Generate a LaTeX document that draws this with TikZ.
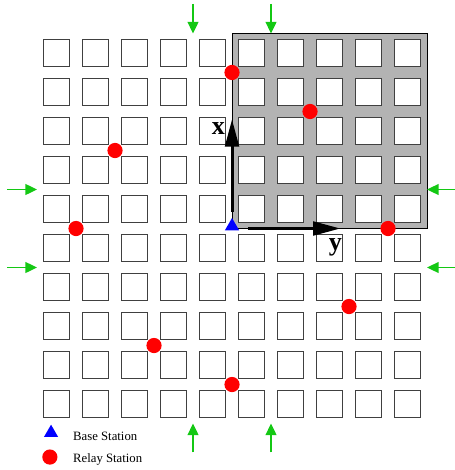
\documentclass[tikz,border=0pt]{standalone}
\usepackage{fontspec}
\setmainfont{Liberation Serif}
\usepackage{xcolor}
\usepackage{tikz}
\usetikzlibrary{shapes.geometric, arrows.meta, positioning, calc}
\definecolor{feedgreen}{RGB}{20,200,20}
\definecolor{zonegray}{RGB}{179,179,179}
\tikzstyle{cell} = [rectangle, minimum size=0.68cm, inner sep=0pt, draw=black!75, line width=0.6pt, fill=white]
\tikzstyle{zone} = [draw=black, line width=0.6pt, fill=zonegray]
\tikzstyle{relay} = [circle, minimum size=0.39cm, inner sep=0pt, fill=red]
\tikzstyle{base} = [regular polygon, regular polygon sides=3, minimum size=0.42cm, inner sep=0pt, fill=blue]
\tikzstyle{feed} = [draw=feedgreen, line width=1.2pt, -{Triangle[length=0.3cm, width=0.28cm]}]
\tikzstyle{axis} = [draw=black, line width=2.2pt, -{Triangle[length=0.7cm, width=0.35cm]}]
\tikzstyle{axislabel} = [inner sep=0pt, anchor=base, font=\fontsize{19}{22}\selectfont\bfseries]
\tikzstyle{legend} = [inner sep=0pt, anchor=base west, font=\fontsize{9.3}{11}\selectfont]

\begin{document}
\begin{tikzpicture}
        \useasboundingbox (-5.949,-6.192) rectangle (5.692,5.859);
        % shaded quadrant
        \draw [zone] (0,0) rectangle (5,5);
        % building blocks
        \foreach \i in {-5,...,4}
            \foreach \j in {-5,...,4}
                \node (sq\i\j) [cell] at (\i+0.5,\j+0.5) {};

        % base station and axes
        \node (bs) [base] at (0,0.06) {};
        \coordinate (xtail) at (0,0.42);
        \coordinate (xtip) at (0,2.8);
        \coordinate (ytail) at (0.42,0);
        \coordinate (ytip) at (2.78,0);
        \draw [axis] (xtail) -- (xtip);
        \draw [axis] (ytail) -- (ytip);
        \node (xlab) [axislabel] at (-0.35,2.4) {x};
        \node (ylab) [axislabel] at (2.65,-0.56) {y};

        % relay stations
        \node (rs1) [relay] at (0,4) {};
        \node (rs2) [relay] at (2,3) {};
        \node (rs3) [relay] at (-3,2) {};
        \node (rs4) [relay] at (-4,0) {};
        \node (rs5) [relay] at (4,0) {};
        \node (rs6) [relay] at (3,-2) {};
        \node (rs7) [relay] at (-2,-3) {};
        \node (rs8) [relay] at (0,-4) {};

        % incoming traffic
        \foreach \k in {-1,1} {
            \coordinate (top\k) at (\k,5.76);
            \coordinate (topend\k) at (\k,5.0);
            \coordinate (bot\k) at (\k,-5.74);
            \coordinate (botend\k) at (\k,-5.0);
            \coordinate (lft\k) at (-5.77,\k);
            \coordinate (lftend\k) at (-5.0,\k);
            \coordinate (rgt\k) at (5.77,\k);
            \coordinate (rgtend\k) at (5.0,\k);
            \draw [feed] (top\k) -- (topend\k);
            \draw [feed] (bot\k) -- (botend\k);
            \draw [feed] (lft\k) -- (lftend\k);
            \draw [feed] (rgt\k) -- (rgtend\k);
        }

        % legend
        \node (lgbs) [base] at (-4.64,-5.24) {};
        \node (lgrs) [relay] at (-4.67,-5.86) {};
        \node (lgbstext) [legend] at (-4.08,-5.43) {Base Station};
        \node (lgrstext) [legend] at (-4.08,-6.0) {Relay Station};
\end{tikzpicture}
\end{document}
